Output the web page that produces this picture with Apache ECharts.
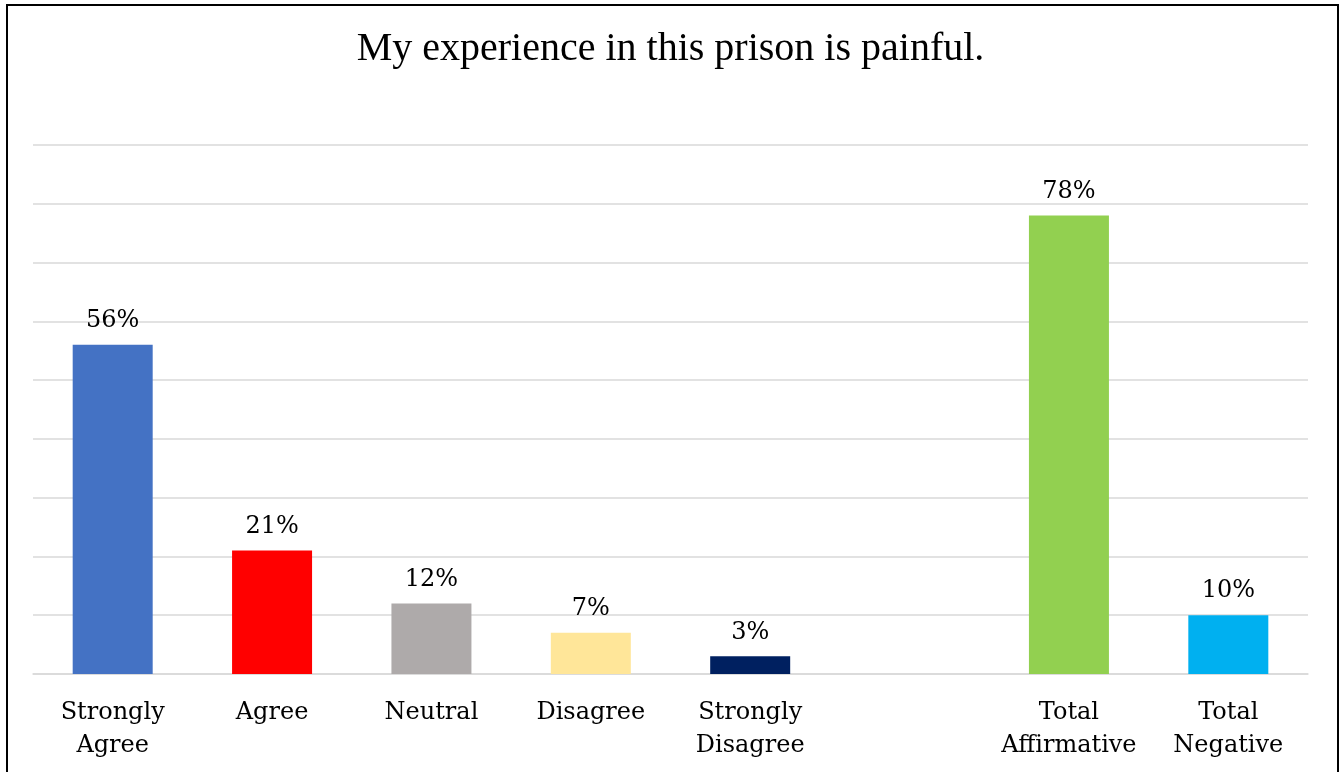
<!DOCTYPE html>
<html><head><meta charset="utf-8">
<script src="https://cdn.jsdelivr.net/npm/echarts@6/dist/echarts.min.js"></script>
<style>
html,body{margin:0;padding:0;background:#fff;}
#frame{position:absolute;left:6px;top:4px;width:1333px;height:800px;border:2px solid #000;box-sizing:border-box;}
#chart{position:absolute;left:0;top:0;width:1341px;height:772px;}
</style></head>
<body>
<div id="frame"></div>
<div id="chart"></div>
<script>
const titleText = 'My experience in this prison is painful.';
const categories = ['Strongly\nAgree', 'Agree', 'Neutral', 'Disagree', 'Strongly\nDisagree', '', 'Total\nAffirmative', 'Total\nNegative'];
const values = [56, 21, 12, 7, 3, null, 78, 10];
const colors = ['#4472C4', '#FF0000', '#AEAAAA', '#FFE699', '#002060', '#ffffff', '#92D050', '#00B0F0'];
const yTicks = [0, 10, 20, 30, 40, 50, 60, 70, 80, 90];

const chart = echarts.init(document.getElementById('chart'), null, {renderer: 'canvas'});
chart.setOption({
  backgroundColor: 'transparent',
  animation: false,
  title: {
    text: titleText, left: 'center', top: 24,
    textStyle: {fontFamily: 'Liberation Serif', fontWeight: 'normal', fontSize: 40, color: '#000'}
  },
  grid: {left: 33, right: 33, top: 145, bottom: 98, containLabel: false},
  xAxis: {
    type: 'category', data: categories,
    axisLine: {show: true, lineStyle: {color: '#d9d9d9', width: 1.5}},
    axisTick: {show: false},
    axisLabel: {margin: 22, fontFamily: 'DejaVu Serif', fontSize: 24, color: '#000', lineHeight: 33, interval: 0}
  },
  yAxis: {
    type: 'value', min: yTicks[0], max: yTicks[yTicks.length - 1], interval: 10,
    axisLabel: {show: false}, axisLine: {show: false}, axisTick: {show: false},
    splitLine: {lineStyle: {color: '#d9d9d9', width: 1.5}}
  },
  series: [{
    type: 'bar', barWidth: 80,
    data: values.map((v, i) => ({value: v, itemStyle: {color: colors[i]}})),
    label: {
      show: true, position: 'top', distance: 12,
      formatter: p => p.value == null ? '' : p.value + '%',
      fontFamily: 'DejaVu Serif', fontSize: 24, color: '#000'
    }
  }]
});
</script>
</body></html>
